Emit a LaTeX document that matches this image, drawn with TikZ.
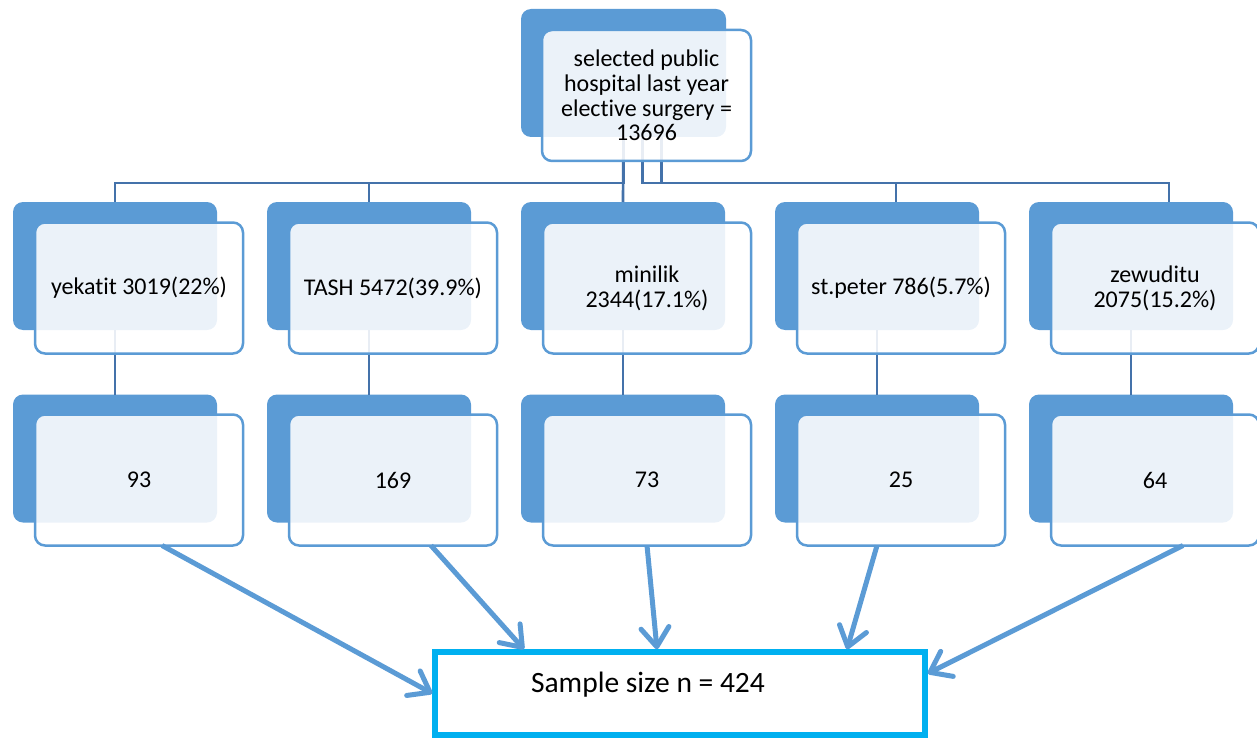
\documentclass[tikz,border=0pt]{standalone}
\usepackage{fontspec}
\setmainfont{Carlito}[RawFeature={-liga;-clig;-calt;-rlig;-dlig}]
\usetikzlibrary{arrows.meta}
\definecolor{accent}{RGB}{91,155,213}
\definecolor{conn}{RGB}{68,114,170}
\definecolor{cyanb}{RGB}{0,176,240}
\begin{document}
\begin{tikzpicture}[x=1pt,y=-1pt,
  backbox/.style={fill=accent, rounded corners=10pt, minimum width=204pt, minimum height=128pt, inner sep=0pt, outer sep=0pt},
  frontbox/.style={draw=accent, line width=2.5pt, fill=white, fill opacity=0.88, text opacity=1, rounded corners=10pt, minimum width=208pt, minimum height=131pt, inner sep=0pt, outer sep=0pt, align=center, font=\fontsize{24}{24.7}\selectfont, text=black},
  treeline/.style={draw=conn, line width=2.7pt},
  bigarrow/.style={draw=accent, line width=5pt, -{Straight Barb[length=19pt,width=28pt,round]}},
  samplebox/.style={draw=cyanb, line width=5.5pt, minimum width=490pt, minimum height=83pt, inner sep=0pt, font=\fontsize{29.5}{30}\selectfont, text height=20pt, text depth=23pt}
]
\useasboundingbox (0,0) rectangle (1257,738);

% back shapes
\node[backbox, minimum width=205pt] (tb) at (623.5,73) {};
\node[backbox] (b1) at (115,266) {};
\node[backbox] (b2) at (369,266) {};
\node[backbox] (b3) at (623,266) {};
\node[backbox] (b4) at (877,266) {};
\node[backbox] (b5) at (1131,266) {};
\node[backbox] (c1) at (115,458.5) {};
\node[backbox] (c2) at (369,458.5) {};
\node[backbox] (c3) at (623,458.5) {};
\node[backbox] (c4) at (877,458.5) {};
\node[backbox] (c5) at (1131,458.5) {};

% tree connectors
\draw[treeline] (tb.south) -- (tb.south |- 0,183) -| (b1.north);
\draw[treeline] (tb.south) -- (tb.south |- 0,183) -| (b2.north);
\draw[treeline] (tb.south) -- (b3.north);
\draw[treeline] ([xshift=19pt]tb.south) -- ([xshift=19pt]tb.south |- 0,183) -| ([xshift=19pt]b4.north);
\draw[treeline] ([xshift=38pt]tb.south) -- ([xshift=38pt]tb.south |- 0,183) -| ([xshift=38pt]b5.north);
\draw[treeline] (b1.south) -- (c1.north);
\draw[treeline] (b2.south) -- (c2.north);
\draw[treeline] (b3.south) -- (c3.north);
\draw[treeline] (b4.south) -- (c4.north);
\draw[treeline] (b5.south) -- (c5.north);

% front shapes
\node[frontbox, minimum width=209pt] (tf) at (646.5,95.5) {selected public\\hospital last year\\elective surgery =\\13696};
\node[frontbox] (f1) at (139,288) {yekat\kern0pt it 3019(22\%)};
\node[frontbox] (f2) at (393,288) {TASH 5472(39.9\%)};
\node[frontbox] (f3) at (647,288) {minilik\\2344(17.1\%)};
\node[frontbox] (f4) at (901,288) {st.peter 786(5.7\%)};
\node[frontbox] (f5) at (1155,288) {zewuditu\\2075(15.2\%)};
\node[frontbox] (g1) at (139,480) {93};
\node[frontbox] (g2) at (393,480) {169};
\node[frontbox] (g3) at (647,480) {73};
\node[frontbox] (g4) at (901,480) {25};
\node[frontbox] (g5) at (1155,480) {64};

% sample box
\node[samplebox] (s) at (680,693.5) {\hspace*{-64pt}Sample size n = 424};

% arrows
\draw[bigarrow] ([xshift=23pt]g1.south) -- (s.west);
\draw[bigarrow] ([xshift=38pt]g2.south) -- ([xshift=-156pt]s.north);
\draw[bigarrow] (g3.south) -- ([xshift=-23pt]s.north);
\draw[bigarrow] ([xshift=-24pt]g4.south) -- ([xshift=167pt]s.north);
\draw[bigarrow] ([xshift=28pt]g5.south) -- ([yshift=20pt]s.east);
\end{tikzpicture}
\end{document}
